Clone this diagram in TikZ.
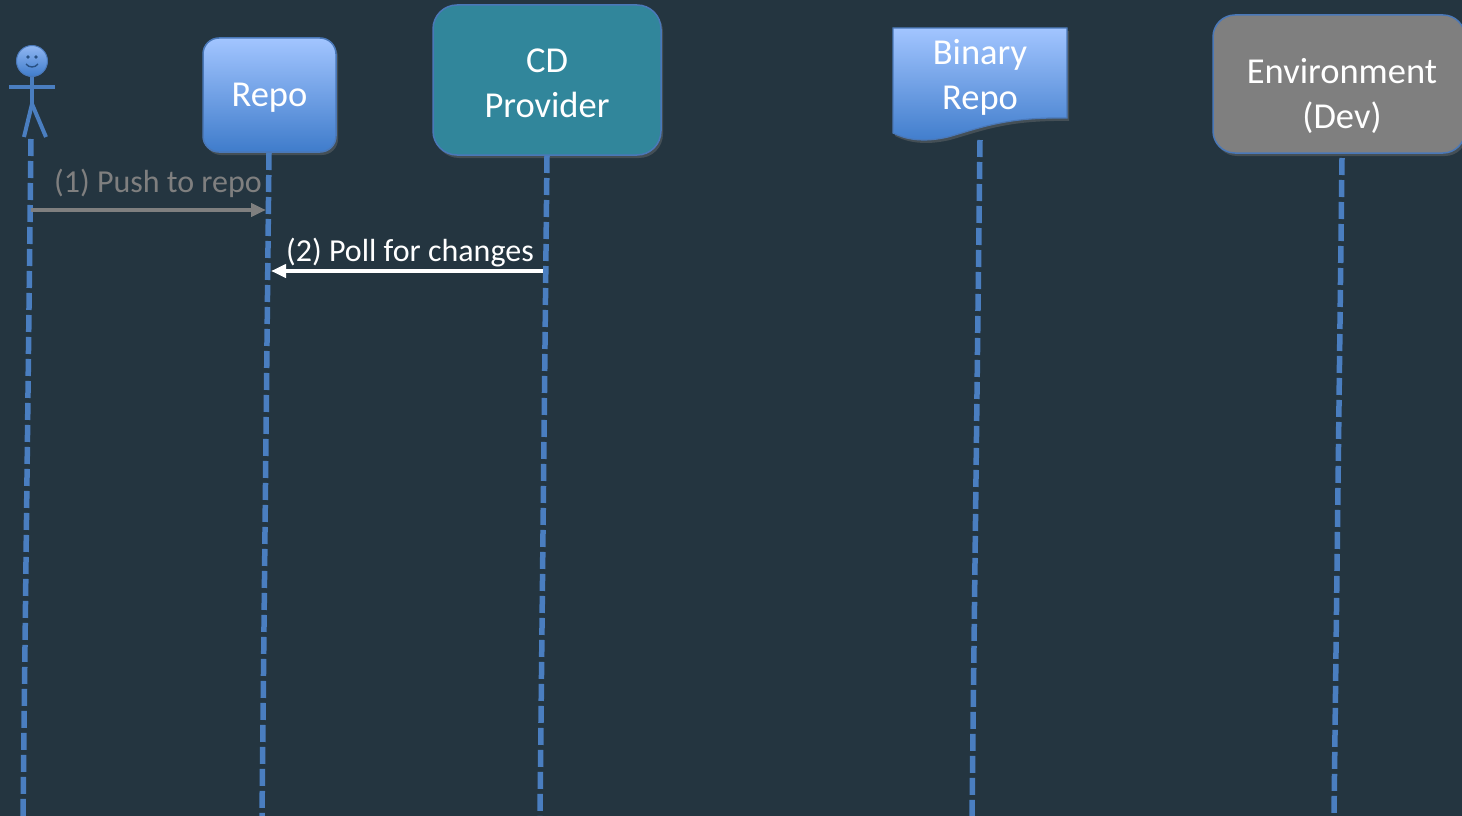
\documentclass[tikz,border=0pt]{standalone}
\usepackage{fontspec}
\setmainfont{Carlito}
\usetikzlibrary{arrows.meta,shadows}
\definecolor{bgc}{HTML}{243540}
\definecolor{lifec}{HTML}{4A7EC0}
\definecolor{boxedge}{HTML}{4A78B8}
\definecolor{bluetop}{HTML}{A2C5FF}
\definecolor{bluebot}{HTML}{3F7CCB}
\definecolor{tealc}{HTML}{31869B}
\definecolor{grayc}{HTML}{7F7F7F}
\tikzset{
  boxfont/.style={font=\fontsize{36.5}{45}\selectfont, text=white, align=center},
  labfont/.style={font=\fontsize{32}{38}\selectfont},
  bluebox/.style={rectangle, rounded corners=16pt, draw=boxedge, line width=1.5pt,
     top color=bluetop, bottom color=bluebot, inner sep=0pt,
     drop shadow={opacity=0.35, shadow xshift=2pt, shadow yshift=-3pt}},
  tealbox/.style={rectangle, rounded corners=24pt, draw=boxedge, line width=1.5pt,
     fill=tealc, inner sep=0pt,
     drop shadow={opacity=0.35, shadow xshift=2pt, shadow yshift=-3pt}},
  graybox/.style={rectangle, rounded corners=22pt, draw=boxedge, line width=1.5pt,
     fill=grayc, inner sep=0pt,
     drop shadow={opacity=0.35, shadow xshift=2pt, shadow yshift=-3pt}},
  lifeline/.style={draw=lifec, line width=5.5pt, dash pattern=on 17pt off 5pt},
  stick/.style={draw=lifec, line width=4pt},
  msg/.style={line width=4.5pt, -{Triangle[length=15pt,width=13pt]}},
}
\begin{document}
\begin{tikzpicture}[x=1pt,y=-1pt]
\fill[bgc] (0,0) rectangle (1462,816);
\useasboundingbox (0,0) rectangle (1462,816);

% Actor
\draw[stick] (32,76) -- (32,104);
\draw[stick] (9,87) -- (55,87);
\draw[stick] (32,104) -- (24,137);
\draw[stick] (32,104) -- (46,137);
\node[circle, minimum size=31pt, inner sep=0pt, top color=bluetop!80!lifec, bottom color=bluebot, draw=boxedge, line width=1pt] (actor) at (32,61) {};
\fill[bluebot!65!black] (28,57) circle (1.8pt) (36,57) circle (1.8pt);
\draw[bluebot!65!black, line width=1.4pt] (26,64) .. controls (29,68) and (35,68) .. (38,64);
\coordinate (actortop) at (31,139);
\coordinate (actorbot) at (23,816);

% Repo
\node[bluebox, minimum width=133pt, minimum height=114pt] (repo) at (269.5,95) {};
\node[boxfont] (repotxt) at (269.5,98) {Repo};
\coordinate (repotop) at (269,153);
\coordinate (repobot) at (262,816);

% CD Provider
\node[tealbox, minimum width=228pt, minimum height=150pt] (cd) at (547,80) {};
\node[boxfont] (cdtxt) at (547,83) {CD\\Provider};
\coordinate (cdtop) at (547,156);
\coordinate (cdbot) at (540,816);

% Binary Repo (document shape)
\path[top color=bluetop, bottom color=bluebot, draw=boxedge, line width=1.2pt,
      drop shadow={opacity=0.35, shadow xshift=2pt, shadow yshift=-3pt}]
  (893,28) -- (1067,28) -- (1067,118)
  .. controls (1005,117) and (980,128) .. (948,137)
  .. controls (922,143) and (905,139) .. (893,133) -- cycle;
\node[boxfont] (bin) at (980,77) {Binary\\Repo};
\coordinate (bintop) at (980,140);
\coordinate (binbot) at (972,816);

% Environment (Dev)
\node[graybox, minimum width=252pt, minimum height=138pt] (env) at (1339,84) {};
\node[boxfont] (envtxt) at (1342,95.5) {Environment\\(Dev)};
\coordinate (envtop) at (1342,158);
\coordinate (envbot) at (1334,816);

% Lifelines
\draw[lifeline] (actortop) -- (actorbot);
\draw[lifeline] (repotop) -- (repobot);
\draw[lifeline] (cdtop) -- (cdbot);
\draw[lifeline] (bintop) -- (binbot);
\draw[lifeline] (envtop) -- (envbot);

% Messages
\coordinate (m1s) at (31,210);
\coordinate (m1e) at (266,210);
\draw[msg, grayc] (m1s) -- (m1e);
\node[labfont, text=grayc] (l1) at (158,183) {(1) Push to repo};

\coordinate (m2s) at (543,271);
\coordinate (m2e) at (271,271);
\draw[msg, white] (m2s) -- (m2e);
\node[labfont, text=white] (l2) at (410,253) {(2) Poll for changes};
\end{tikzpicture}
\end{document}
